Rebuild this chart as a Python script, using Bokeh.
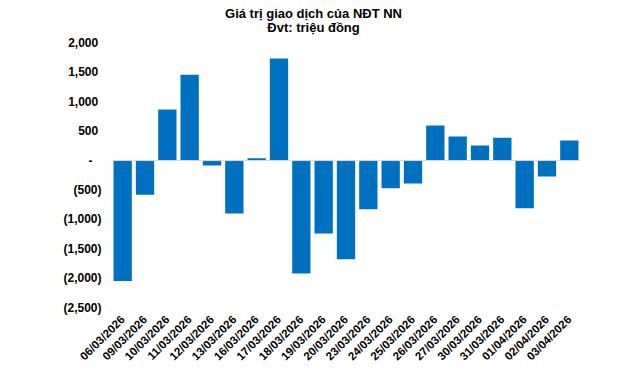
from bokeh.plotting import figure
from bokeh.models import FactorRange, Range1d, FixedTicker, CustomJSTickFormatter, Span, Label, ColumnDataSource
from bokeh.embed import file_html
from bokeh.resources import INLINE
import math

dates = ["06/03/2026", "09/03/2026", "10/03/2026", "11/03/2026", "12/03/2026", "13/03/2026",
         "16/03/2026", "17/03/2026", "18/03/2026", "19/03/2026", "20/03/2026", "23/03/2026",
         "24/03/2026", "25/03/2026", "26/03/2026", "27/03/2026", "30/03/2026", "31/03/2026",
         "01/04/2026", "02/04/2026", "03/04/2026"]
values = [-2050, -580, 870, 1460, -85, -900, 40, 1735, -1920, -1240, -1680, -830,
          -470, -390, 595, 410, 255, 390, -810, -270, 340]
y_ticks = [-2500, -2000, -1500, -1000, -500, 0, 500, 1000, 1500, 2000]
title_line1 = "Giá trị giao dịch của NĐT NN"
title_line2 = "Đvt: triệu đồng"

FONT = "Liberation Sans"

src = ColumnDataSource(data=dict(x=dates, y=values))

# frame extends to the top of the canvas so the title labels sit inside it;
# the axis (2,000 .. (2,500)) keeps its place
p = figure(width=640, height=370, output_backend="svg", toolbar_location=None,
           x_range=FactorRange(*dates, range_padding=0), y_range=Range1d(-2500, 2723),
           min_border_left=111, min_border_right=60, min_border_top=0, min_border_bottom=63)
p.outline_line_color = None
p.background_fill_color = "white"
p.border_fill_color = "white"
p.xgrid.visible = False
p.ygrid.visible = False

p.vbar(x="x", top="y", bottom=0, width=0.82, source=src, fill_color="#0070C0", line_color=None)
p.add_layout(Span(location=0, dimension="width", line_color="#d9d9d9", line_width=1))

p.yaxis.ticker = FixedTicker(ticks=y_ticks)
p.yaxis.formatter = CustomJSTickFormatter(code="""
    if (tick == 0) return "-\u00a0\u00a0\u2009";
    const s = Math.abs(tick).toLocaleString('en-US');
    return tick < 0 ? "(" + s + ")" : s + "\u00a0";
""")
for ax in (p.xaxis, p.yaxis):
    ax.axis_line_color = None
    ax.major_tick_line_color = None
    ax.minor_tick_line_color = None
    ax.major_tick_out = 0
    ax.major_tick_in = 0
    ax.minor_tick_out = 0
    ax.minor_tick_in = 0
    ax.major_label_text_font = FONT
    ax.major_label_text_font_style = "bold"
    ax.major_label_text_color = "black"
p.yaxis.major_label_text_font_size = "12px"
p.yaxis.major_label_standoff = 10
p.xaxis.major_label_text_font_size = "11.5px"
p.xaxis.major_label_orientation = math.pi / 4
p.xaxis.major_label_standoff = 10

t1 = Label(x=202, y=294.5, x_units="screen", y_units="screen", text=title_line1,
           text_align="center", text_baseline="alphabetic", text_font=FONT,
           text_font_style="bold", text_font_size="13px", text_color="black")
t2 = Label(x=202, y=280.5, x_units="screen", y_units="screen", text=title_line2,
           text_align="center", text_baseline="alphabetic", text_font=FONT,
           text_font_style="bold", text_font_size="13px", text_color="black")
p.add_layout(t1)
p.add_layout(t2)

open("out.html", "w").write(file_html(p, INLINE))
